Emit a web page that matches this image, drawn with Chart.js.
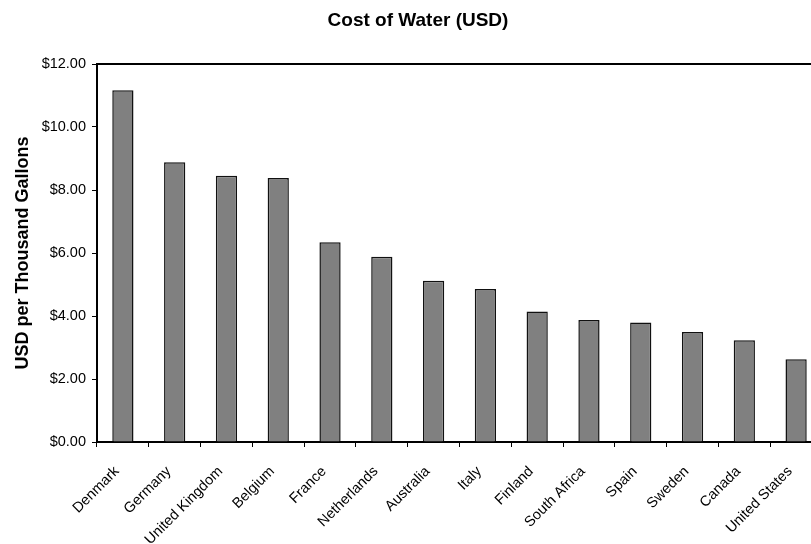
<!DOCTYPE html>
<html>
<head>
<meta charset="utf-8">
<script src="https://cdn.jsdelivr.net/npm/chart.js@4/dist/chart.umd.min.js"></script>
<style>
  html, body { margin: 0; padding: 0; background: #fff; overflow: hidden; }
  #wrap { width: 811px; height: 544px; overflow: hidden; }
  canvas { display: block; }
</style>
</head>
<body>
<div id="wrap"><canvas id="chart" width="836" height="544"></canvas></div>
<script>
// Water tariffs by country, USD per thousand gallons
const countries = ['Denmark', 'Germany', 'United Kingdom', 'Belgium', 'France', 'Netherlands',
  'Australia', 'Italy', 'Finland', 'South Africa', 'Spain', 'Sweden', 'Canada', 'United States'];
const costPerThousandGallons = [11.17, 8.88, 8.45, 8.38, 6.34, 5.88, 5.12, 4.86, 4.14, 3.87, 3.79, 3.49, 3.23, 2.63];
const yTicks = [0, 2, 4, 6, 8, 10, 12];

const FONT = "'Liberation Sans', Arial, sans-serif";

// Outline the plot area (top and right edges; the axes draw left and bottom)
const frame = {
  id: 'frame',
  afterDraw(chart) {
    const { ctx, chartArea: a } = chart;
    ctx.save();
    ctx.strokeStyle = '#000';
    ctx.lineWidth = 2;
    ctx.beginPath();
    ctx.moveTo(a.left, a.top);
    ctx.lineTo(a.right, a.top);
    ctx.lineTo(a.right, a.bottom);
    ctx.stroke();
    ctx.restore();
  }
};

new Chart(document.getElementById('chart'), {
  type: 'bar',
  data: {
    labels: countries,
    datasets: [{
      data: costPerThousandGallons,
      backgroundColor: '#808080',
      borderColor: '#111',
      borderWidth: 1.5,
      categoryPercentage: 1,
      barPercentage: 0.41
    }]
  },
  options: {
    responsive: false,
    animation: false,
    layout: { padding: 0 },
    plugins: {
      legend: { display: false },
      tooltip: { enabled: false },
      title: {
        display: true,
        text: 'Cost of Water (USD)',
        color: '#000',
        font: { family: FONT, size: 19, weight: 'bold', lineHeight: 1.2 },
        padding: { top: 9.5, bottom: 31.7 }
      }
    },
    scales: {
      x: {
        grid: { display: true, drawOnChartArea: false, drawTicks: true, tickLength: 5, color: '#000', offset: true },
        border: { display: true, color: '#000', width: 2 },
        ticks: {
          color: '#000',
          font: { family: FONT, size: 14.5 },
          minRotation: 45,
          maxRotation: 45,
          autoSkip: false,
          padding: 16,
          labelOffset: -6
        },
        afterFit(scale) { scale.height = 102; }
      },
      y: {
        min: 0,
        max: 12,
        afterBuildTicks(scale) { scale.ticks = yTicks.map(v => ({ value: v })); },
        grid: { display: true, drawOnChartArea: false, drawTicks: true, tickLength: 5, color: '#000' },
        border: { display: true, color: '#000', width: 2 },
        ticks: {
          color: '#000',
          font: { family: FONT, size: 14.5 },
          padding: 6,
          callback: v => '$' + Number(v).toFixed(2)
        },
        title: {
          display: true,
          text: 'USD per Thousand Gallons',
          color: '#000',
          font: { family: FONT, size: 18, weight: 'bold' },
          padding: { top: 12.5, bottom: 0 }
        },
        afterFit(scale) { scale.width = 97; }
      },
      // empty strip on the right so the plot runs past the visible edge
      edge: {
        type: 'linear',
        position: 'right',
        display: true,
        grid: { display: false },
        border: { display: false },
        ticks: { display: false },
        afterFit(scale) { scale.width = 14; }
      }
    }
  },
  plugins: [frame]
});
</script>
</body>
</html>
